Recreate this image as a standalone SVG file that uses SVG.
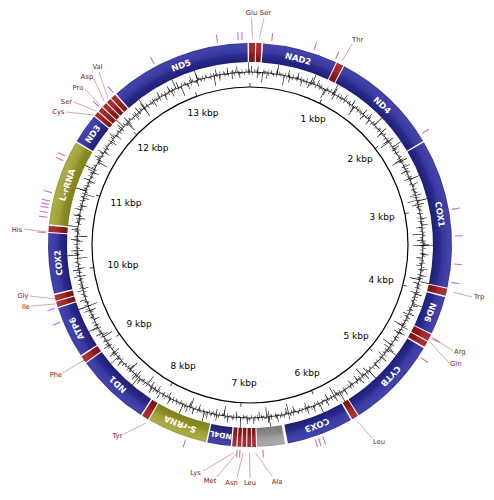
<svg xmlns="http://www.w3.org/2000/svg" width="494" height="500" viewBox="0 0 494 500">
<style>
.seg{fill:none;stroke-width:19}
.b{stroke:url(#gB)}.o{stroke:url(#gO)}.r{stroke:url(#gR)}.g{stroke:url(#gG)}
.gl{font-family:"DejaVu Sans",sans-serif;font-size:8.5px;font-weight:bold;fill:#fff;text-anchor:middle}
.tl{font-family:"DejaVu Sans",sans-serif;font-size:6.8px;fill:#7a2020}
.kb{font-family:"DejaVu Sans",sans-serif;font-size:9px;fill:#000;text-anchor:middle}
.ld{stroke:#b07070;stroke-width:0.6;fill:none}
.mt{stroke:#c86ec8;stroke-width:1.1}
.tk{stroke:#000;stroke-width:0.7}
</style>
<defs>
<radialGradient id="gB" gradientUnits="userSpaceOnUse" cx="250" cy="245" r="202">
<stop offset="0.905" stop-color="#1e1e78"/><stop offset="0.94" stop-color="#2a2a8a"/><stop offset="0.955" stop-color="#3838a0"/><stop offset="0.99" stop-color="#4343aa"/><stop offset="1" stop-color="#363698"/>
</radialGradient>
<radialGradient id="gO" gradientUnits="userSpaceOnUse" cx="250" cy="245" r="202">
<stop offset="0.905" stop-color="#80801c"/><stop offset="0.94" stop-color="#8e8e28"/><stop offset="0.955" stop-color="#a0a03a"/><stop offset="0.99" stop-color="#acac48"/><stop offset="1" stop-color="#9a9a38"/>
</radialGradient>
<radialGradient id="gR" gradientUnits="userSpaceOnUse" cx="250" cy="245" r="202">
<stop offset="0.905" stop-color="#7a1212"/><stop offset="0.94" stop-color="#8c1a1a"/><stop offset="0.955" stop-color="#a02828"/><stop offset="0.99" stop-color="#aa3232"/><stop offset="1" stop-color="#982828"/>
</radialGradient>
<radialGradient id="gG" gradientUnits="userSpaceOnUse" cx="250" cy="245" r="202">
<stop offset="0.905" stop-color="#7a7a7a"/><stop offset="0.94" stop-color="#888888"/><stop offset="0.955" stop-color="#9c9c9c"/><stop offset="0.99" stop-color="#aaaaaa"/><stop offset="1" stop-color="#999999"/>
</radialGradient>
</defs>
<rect width="494" height="500" fill="#fff"/>

<g id="plot" fill="none" stroke="#000">
<circle cx="250" cy="245" r="173" stroke-width="0.8"/>
<circle cx="250" cy="245" r="172" stroke-width="0.6" stroke-dasharray="3 5 2 7 4 3 2 6"/>
<circle cx="250" cy="245" r="174" stroke-width="0.6" stroke-dasharray="2 6 3 4 2 8 3 5"/>
<circle cx="250" cy="245" r="174.5" stroke-width="3" stroke-dasharray="0.5 3.1 0.5 4.7 0.5 2.3 0.5 5.9 0.5 3.6"/>
<circle cx="250" cy="245" r="171.5" stroke-width="3" stroke-dasharray="0.5 4.3 0.5 2.9 0.5 6.1 0.5 3.3 0.5 5.2"/>
<circle cx="250" cy="245" r="176" stroke-width="6" stroke-dasharray="0.6 9 0.6 14 0.6 6 0.6 19 0.6 11"/>
<circle cx="250" cy="245" r="170" stroke-width="6" stroke-dasharray="0.6 12 0.6 7 0.6 17 0.6 9 0.6 22"/>
<circle cx="250" cy="245" r="178" stroke-width="10" stroke-dasharray="0.6 37 0.6 23 0.6 53 0.6 29"/>
<circle cx="250" cy="245" r="168" stroke-width="10" stroke-dasharray="0.6 33 0.6 47 0.6 21 0.6 41"/>
</g>

<g id="scale">
<circle cx="250" cy="245" r="158" fill="none" stroke="#000" stroke-width="1.2"/>
<g class="tk">
<line x1="250" y1="87" x2="250" y2="83"/>
<line x1="250" y1="87" x2="250" y2="83" transform="rotate(26.18 250 245)"/>
<line x1="250" y1="87" x2="250" y2="83" transform="rotate(52.36 250 245)"/>
<line x1="250" y1="87" x2="250" y2="83" transform="rotate(78.54 250 245)"/>
<line x1="250" y1="87" x2="250" y2="83" transform="rotate(104.72 250 245)"/>
<line x1="250" y1="87" x2="250" y2="83" transform="rotate(130.9 250 245)"/>
<line x1="250" y1="87" x2="250" y2="83" transform="rotate(157.08 250 245)"/>
<line x1="250" y1="87" x2="250" y2="83" transform="rotate(183.26 250 245)"/>
<line x1="250" y1="87" x2="250" y2="83" transform="rotate(209.44 250 245)"/>
<line x1="250" y1="87" x2="250" y2="83" transform="rotate(235.62 250 245)"/>
<line x1="250" y1="87" x2="250" y2="83" transform="rotate(261.8 250 245)"/>
<line x1="250" y1="87" x2="250" y2="83" transform="rotate(287.98 250 245)"/>
<line x1="250" y1="87" x2="250" y2="83" transform="rotate(314.16 250 245)"/>
<line x1="250" y1="87" x2="250" y2="83" transform="rotate(340.34 250 245)"/>
</g>
<text class="kb" x="313" y="122">1 kbp</text>
<text class="kb" x="360" y="162">2 kbp</text>
<text class="kb" x="382" y="220">3 kbp</text>
<text class="kb" x="381" y="283">4 kbp</text>
<text class="kb" x="356" y="339">5 kbp</text>
<text class="kb" x="307" y="376">6 kbp</text>
<text class="kb" x="244" y="386">7 kbp</text>
<text class="kb" x="183" y="369">8 kbp</text>
<text class="kb" x="139" y="327">9 kbp</text>
<text class="kb" x="123" y="268">10 kbp</text>
<text class="kb" x="126" y="206">11 kbp</text>
<text class="kb" x="153" y="151">12 kbp</text>
<text class="kb" x="203" y="116">13 kbp</text>
</g>

<g id="marks" class="mt">
<line x1="250" y1="40" x2="250" y2="32" transform="rotate(332.1 250 245)"/>
<line x1="250" y1="40" x2="250" y2="32" transform="rotate(350.9 250 245)"/>
<line x1="250" y1="40" x2="250" y2="32" transform="rotate(356.7 250 245)"/>
<line x1="250" y1="40" x2="250" y2="32" transform="rotate(357.8 250 245)"/>
<line x1="250" y1="40" x2="250" y2="32" transform="rotate(6.1 250 245)"/>
<line x1="250" y1="40" x2="250" y2="32" transform="rotate(18.2 250 245)"/>
<line x1="250" y1="40" x2="250" y2="32" transform="rotate(24.7 250 245)"/>
<line x1="250" y1="40" x2="250" y2="32" transform="rotate(57.1 250 245)"/>
<line x1="250" y1="40" x2="250" y2="32" transform="rotate(80 250 245)"/>
<line x1="250" y1="40" x2="250" y2="32" transform="rotate(87.5 250 245)"/>
<line x1="250" y1="40" x2="250" y2="32" transform="rotate(95.3 250 245)"/>
<line x1="250" y1="40" x2="250" y2="32" transform="rotate(100.5 250 245)"/>
<line x1="250" y1="40" x2="250" y2="32" transform="rotate(117.2 250 245)"/>
<line x1="250" y1="40" x2="250" y2="32" transform="rotate(123.4 250 245)"/>
<line x1="250" y1="40" x2="250" y2="32" transform="rotate(159.2 250 245)"/>
<line x1="250" y1="40" x2="250" y2="32" transform="rotate(160.5 250 245)"/>
<line x1="250" y1="40" x2="250" y2="32" transform="rotate(161.5 250 245)"/>
<line x1="250" y1="40" x2="250" y2="32" transform="rotate(176.4 250 245)"/>
<line x1="250" y1="40" x2="250" y2="32" transform="rotate(182.8 250 245)"/>
<line x1="250" y1="40" x2="250" y2="32" transform="rotate(183.6 250 245)"/>
<line x1="250" y1="40" x2="250" y2="32" transform="rotate(198.3 250 245)"/>
<line x1="250" y1="40" x2="250" y2="32" transform="rotate(247.9 250 245)"/>
<line x1="250" y1="40" x2="250" y2="32" transform="rotate(252 250 245)"/>
<line x1="250" y1="40" x2="250" y2="32" transform="rotate(273.5 250 245)"/>
<line x1="250" y1="40" x2="250" y2="32" transform="rotate(277.8 250 245)"/>
<line x1="250" y1="40" x2="250" y2="32" transform="rotate(279.1 250 245)"/>
<line x1="250" y1="40" x2="250" y2="32" transform="rotate(280.5 250 245)"/>
<line x1="250" y1="40" x2="250" y2="32" transform="rotate(281.4 250 245)"/>
<line x1="250" y1="40" x2="250" y2="32" transform="rotate(282.4 250 245)"/>
<line x1="250" y1="40" x2="250" y2="32" transform="rotate(284.8 250 245)"/>
<line x1="250" y1="40" x2="250" y2="32" transform="rotate(294.3 250 245)"/>
<line x1="250" y1="40" x2="250" y2="32" transform="rotate(295.7 250 245)"/>
<line x1="250" y1="40" x2="250" y2="32" transform="rotate(312.5 250 245)"/>
<line x1="250" y1="40" x2="250" y2="32" transform="rotate(318.1 250 245)"/>
</g>

<g id="connectors" class="ld">
<line x1="251.5" y1="18" x2="252.5" y2="38"/>
<line x1="264" y1="18" x2="259.5" y2="38"/>
<line x1="342" y1="61" x2="352" y2="44"/>
<line x1="453" y1="292" x2="472" y2="297"/>
<line x1="432" y1="337" x2="453" y2="351"/>
<line x1="430" y1="342" x2="449" y2="363"/>
<line x1="357" y1="421" x2="372" y2="438"/>
<line x1="233.5" y1="453" x2="203" y2="471"/>
<line x1="237" y1="453" x2="217" y2="477"/>
<line x1="243" y1="453" x2="237" y2="478"/>
<line x1="249.5" y1="453" x2="250" y2="478"/>
<line x1="255.5" y1="453" x2="272" y2="476"/>
<line x1="146" y1="423" x2="124" y2="434"/>
<line x1="84" y1="360" x2="63" y2="373"/>
<line x1="55" y1="299" x2="30" y2="296"/>
<line x1="55" y1="304" x2="31" y2="306"/>
<line x1="47" y1="232" x2="24" y2="229"/>
<line x1="94" y1="115" x2="66" y2="112"/>
<line x1="96" y1="111" x2="74" y2="102"/>
<line x1="100" y1="105" x2="85" y2="89"/>
<line x1="104" y1="101" x2="94" y2="79"/>
<line x1="108" y1="98" x2="99" y2="72"/>
</g>

<g id="ND5"><circle class="seg b" cx="250" cy="245" r="192.5" pathLength="360" stroke-dasharray="40.8 400" transform="rotate(228.5 250 245)"/><text class="gl" x="250" y="55.6" transform="rotate(339 250 245)">ND5</text></g>
<g id="tRNA-Glu"><circle class="seg r" cx="250" cy="245" r="192.5" pathLength="360" stroke-dasharray="1.8 400" transform="rotate(269.7 250 245)"/><text class="tl" x="251.5" y="15" text-anchor="middle">Glu</text></g>
<g id="tRNA-Ser1"><circle class="seg r" cx="250" cy="245" r="192.5" pathLength="360" stroke-dasharray="1.5 400" transform="rotate(271.8 250 245)"/><text class="tl" x="265.5" y="15" text-anchor="middle">Ser</text></g>
<g id="NAD2"><circle class="seg b" cx="250" cy="245" r="192.5" pathLength="360" stroke-dasharray="21.5 400" transform="rotate(-86.3 250 245)"/><text class="gl" x="250" y="55.6" transform="rotate(14.5 250 245)">NAD2</text></g>
<g id="tRNA-Thr"><circle class="seg r" cx="250" cy="245" r="192.5" pathLength="360" stroke-dasharray="2 400" transform="rotate(-64.5 250 245)"/><text class="tl" x="352" y="41.5">Thr</text></g>
<g id="ND4"><circle class="seg b" cx="250" cy="245" r="192.5" pathLength="360" stroke-dasharray="31.2 400" transform="rotate(-62.2 250 245)"/><text class="gl" x="250" y="55.6" transform="rotate(43.4 250 245)">ND4</text></g>
<g id="COX1"><circle class="seg b" cx="250" cy="245" r="192.5" pathLength="360" stroke-dasharray="42.8 400" transform="rotate(-30.6 250 245)"/><text class="gl" x="250" y="55.6" transform="rotate(80.8 250 245)">COX1</text></g>
<g id="tRNA-Trp"><circle class="seg r" cx="250" cy="245" r="192.5" pathLength="360" stroke-dasharray="2.1 400" transform="rotate(12.5 250 245)"/><text class="tl" x="474" y="298.5">Trp</text></g>
<g id="ND6"><circle class="seg b" cx="250" cy="245" r="192.5" pathLength="360" stroke-dasharray="11 400" transform="rotate(15 250 245)"/><text class="gl" x="250" y="55.6" transform="rotate(110.5 250 245)">ND6</text></g>
<g id="tRNA-Arg"><circle class="seg r" cx="250" cy="245" r="192.5" pathLength="360" stroke-dasharray="2 400" transform="rotate(26.3 250 245)"/><text class="tl" x="454" y="353.5">Arg</text></g>
<g id="tRNA-Gln"><circle class="seg r" cx="250" cy="245" r="192.5" pathLength="360" stroke-dasharray="1.7 400" transform="rotate(28.6 250 245)"/><text class="tl" x="450" y="366">Gln</text></g>
<g id="CYTB"><circle class="seg b" cx="250" cy="245" r="192.5" pathLength="360" stroke-dasharray="26.7 400" transform="rotate(30.7 250 245)"/><text class="gl" x="250" y="55.6" transform="rotate(133 250 245)">CYTB</text></g>
<g id="tRNA-Leu1"><circle class="seg r" cx="250" cy="245" r="192.5" pathLength="360" stroke-dasharray="1.9 400" transform="rotate(57.7 250 245)"/><text class="tl" x="373" y="444">Leu</text></g>
<g id="COX3"><circle class="seg b" cx="250" cy="245" r="192.5" pathLength="360" stroke-dasharray="19.2 400" transform="rotate(60 250 245)"/><text class="gl" x="250" y="55.6" transform="rotate(159.6 250 245)">COX3</text></g>
<g id="control"><circle class="seg g" cx="250" cy="245" r="192.5" pathLength="360" stroke-dasharray="8 400" transform="rotate(80 250 245)"/></g>
<g id="tRNA-Ala"><circle class="seg r" cx="250" cy="245" r="192.5" pathLength="360" stroke-dasharray="1.1 400" transform="rotate(88.3 250 245)"/><text class="tl" x="277" y="484" text-anchor="middle">Ala</text></g>
<g id="tRNA-Leu2"><circle class="seg r" cx="250" cy="245" r="192.5" pathLength="360" stroke-dasharray="1.1 400" transform="rotate(89.7 250 245)"/><text class="tl" x="250" y="485" text-anchor="middle">Leu</text></g>
<g id="tRNA-Asn"><circle class="seg r" cx="250" cy="245" r="192.5" pathLength="360" stroke-dasharray="1.1 400" transform="rotate(91.1 250 245)"/><text class="tl" x="231.5" y="485" text-anchor="middle">Asn</text></g>
<g id="tRNA-Met"><circle class="seg r" cx="250" cy="245" r="192.5" pathLength="360" stroke-dasharray="1.1 400" transform="rotate(92.5 250 245)"/><text class="tl" x="210" y="482.5" text-anchor="middle">Met</text></g>
<g id="tRNA-Lys"><circle class="seg r" cx="250" cy="245" r="192.5" pathLength="360" stroke-dasharray="1.2 400" transform="rotate(93.9 250 245)"/><text class="tl" x="195.5" y="474.5" text-anchor="middle">Lys</text></g>
<g id="ND4L"><circle class="seg b" cx="250" cy="245" r="192.5" pathLength="360" stroke-dasharray="6.7 400" transform="rotate(95.5 250 245)"/><text class="gl" x="250" y="55.3" style="font-size:7.4px" transform="rotate(188.8 250 245)">ND4L</text></g>
<g id="S-rRNA"><circle class="seg o" cx="250" cy="245" r="192.5" pathLength="360" stroke-dasharray="17.4 400" transform="rotate(102.6 250 245)"/><text class="gl" x="250" y="55.6" transform="rotate(201.3 250 245)">S-rRNA</text></g>
<g id="tRNA-Tyr"><circle class="seg r" cx="250" cy="245" r="192.5" pathLength="360" stroke-dasharray="2 400" transform="rotate(120.3 250 245)"/><text class="tl" x="117.5" y="438" text-anchor="middle">Tyr</text></g>
<g id="ND1"><circle class="seg b" cx="250" cy="245" r="192.5" pathLength="360" stroke-dasharray="21.5 400" transform="rotate(122.7 250 245)"/><text class="gl" x="250" y="55.6" transform="rotate(223.5 250 245)">ND1</text></g>
<g id="tRNA-Phe"><circle class="seg r" cx="250" cy="245" r="192.5" pathLength="360" stroke-dasharray="2 400" transform="rotate(144.5 250 245)"/><text class="tl" x="56" y="377" text-anchor="middle">Phe</text></g>
<g id="ATP6"><circle class="seg b" cx="250" cy="245" r="192.5" pathLength="360" stroke-dasharray="14.9 400" transform="rotate(146.9 250 245)"/><text class="gl" x="250" y="55.6" transform="rotate(244.3 250 245)">ATP6</text></g>
<g id="tRNA-Ile"><circle class="seg r" cx="250" cy="245" r="192.5" pathLength="360" stroke-dasharray="1.6 400" transform="rotate(162.1 250 245)"/><text class="tl" x="26" y="309" text-anchor="middle">Ile</text></g>
<g id="tRNA-Gly"><circle class="seg r" cx="250" cy="245" r="192.5" pathLength="360" stroke-dasharray="1.6 400" transform="rotate(164 250 245)"/><text class="tl" x="23" y="298" text-anchor="middle">Gly</text></g>
<g id="COX2"><circle class="seg b" cx="250" cy="245" r="192.5" pathLength="360" stroke-dasharray="17.4 400" transform="rotate(166 250 245)"/><text class="gl" x="250" y="55.6" transform="rotate(264.7 250 245)">COX2</text></g>
<g id="tRNA-His"><circle class="seg r" cx="250" cy="245" r="192.5" pathLength="360" stroke-dasharray="1.8 400" transform="rotate(183.7 250 245)"/><text class="tl" x="17" y="232" text-anchor="middle">His</text></g>
<g id="L-rRNA"><circle class="seg o" cx="250" cy="245" r="192.5" pathLength="360" stroke-dasharray="24.6 400" transform="rotate(185.9 250 245)"/><text class="gl" x="250" y="55.6" transform="rotate(288.2 250 245)">L-rRNA</text></g>
<g id="ND3"><circle class="seg b" cx="250" cy="245" r="192.5" pathLength="360" stroke-dasharray="8.6 400" transform="rotate(210.9 250 245)"/><text class="gl" x="250" y="55.6" transform="rotate(305.2 250 245)">ND3</text></g>
<g id="tRNA-Cys"><circle class="seg r" cx="250" cy="245" r="192.5" pathLength="360" stroke-dasharray="1.4 400" transform="rotate(219.8 250 245)"/><text class="tl" x="58.5" y="114" text-anchor="middle">Cys</text></g>
<g id="tRNA-Ser2"><circle class="seg r" cx="250" cy="245" r="192.5" pathLength="360" stroke-dasharray="1.4 400" transform="rotate(221.5 250 245)"/><text class="tl" x="66.5" y="104" text-anchor="middle">Ser</text></g>
<g id="tRNA-Pro"><circle class="seg r" cx="250" cy="245" r="192.5" pathLength="360" stroke-dasharray="1.4 400" transform="rotate(223.2 250 245)"/><text class="tl" x="78" y="90" text-anchor="middle">Pro</text></g>
<g id="tRNA-Asp"><circle class="seg r" cx="250" cy="245" r="192.5" pathLength="360" stroke-dasharray="1.4 400" transform="rotate(224.9 250 245)"/><text class="tl" x="87" y="78.5" text-anchor="middle">Asp</text></g>
<g id="tRNA-Val"><circle class="seg r" cx="250" cy="245" r="192.5" pathLength="360" stroke-dasharray="1.5 400" transform="rotate(226.6 250 245)"/><text class="tl" x="97.5" y="69" text-anchor="middle">Val</text></g>
</svg>
